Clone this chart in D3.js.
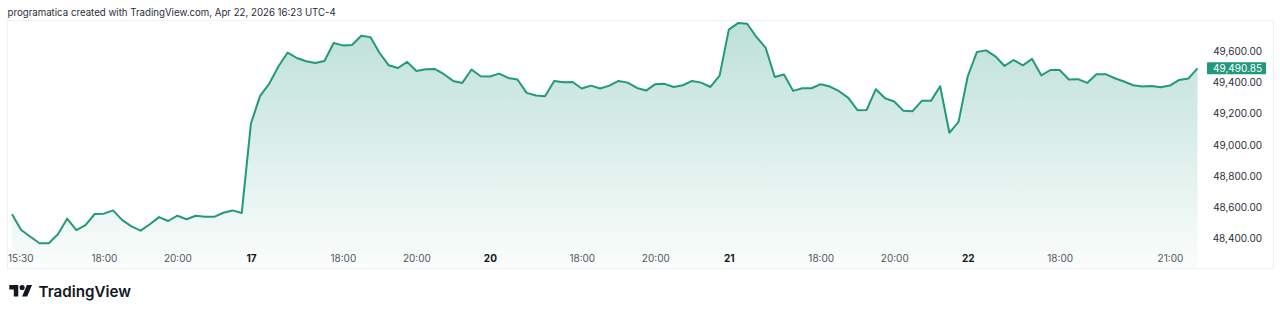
<!DOCTYPE html>
<html>
<head>
<meta charset="utf-8">
<script src="https://cdn.jsdelivr.net/npm/d3@7"></script>
<style>
  html, body { margin: 0; padding: 0; background: #fff; }
  svg { display: block; font-family: Inter, "Noto Sans", sans-serif; }
</style>
</head>
<body>
<svg id="chart" width="1280" height="315"></svg>
<script>
// sessions (days) and the 15 minute bars inside each one
let sessionDays = ['16', '17', '20', '21', '22'];
let barTimes = ['15:30','15:45','16:00','16:15','16:30','16:45','17:00','17:15','17:30','17:45',
                '18:00','18:15','18:30','18:45','19:00','19:15','19:30','19:45','20:00','20:15',
                '20:30','20:45','21:00','21:15','21:30','21:45'];

// closes per session
let apr16 = [48554,48453,48410,48368,48368,48426,48526,48453,48485,48556,48558,48579,48517,
             48477,48449,48490,48536,48511,48545,48522,48545,48538,48538,48564,48579,48562];
let apr17 = [49137,49314,49393,49504,49592,49557,49536,49525,49538,49653,49638,49640,49700,
             49691,49589,49510,49493,49532,49474,49485,49487,49453,49410,49397,49483,49440];
let apr20 = [49438,49457,49429,49419,49333,49316,49312,49410,49401,49403,49361,49380,49361,
             49380,49410,49399,49365,49348,49389,49391,49371,49382,49410,49399,49371,49444];
let apr21 = [49739,49781,49777,49692,49624,49435,49451,49346,49363,49363,49389,49374,49344,
             49301,49222,49224,49357,49299,49278,49218,49216,49282,49282,49376,49077,49147];
let apr22 = [49440,49596,49606,49568,49506,49544,49510,49551,49446,49480,49480,49419,49421,
             49397,49453,49453,49427,49406,49382,49374,49378,49369,49380,49416,49425,49490.85];

let priceTicks = [48400, 48600, 48800, 49000, 49200, 49400, 49600];
let lastPrice = 49490.85;

// x axis ticks: [day, bar time, label, is day boundary]
let timeTicks = [
  ['16','15:30','15:30',false], ['16','18:00','18:00',false], ['16','20:00','20:00',false],
  ['17','15:30','17',true],     ['17','18:00','18:00',false], ['17','20:00','20:00',false],
  ['20','15:30','20',true],     ['20','18:00','18:00',false], ['20','20:00','20:00',false],
  ['21','15:30','21',true],     ['21','18:00','18:00',false], ['21','20:00','20:00',false],
  ['22','15:30','22',true],     ['22','18:00','18:00',false], ['22','21:00','21:00',false]
];

let title = 'programatica created with TradingView.com, Apr 22, 2026 16:23 UTC-4';

// build rows
let sessions = [apr16, apr17, apr20, apr21, apr22];
let data = [];
sessions.forEach(function (closes, s) {
  closes.forEach(function (c, b) {
    data.push({ key: sessionDays[s] + ' ' + barTimes[b], close: c });
  });
});

let svg = d3.select('#chart');
let lineColor = '#22997a';
let axisFont = 10;

let frame = { left: 7.5, right: 1273.5, top: 20.5, bottom: 268.5 };

let x = d3.scalePoint()
  .domain(data.map(function (d) { return d.key; }))
  .range([12, 1197.5]);

let y = d3.scaleLinear()
  .domain([48400, 49600])
  .range([238.3, 51.3]);

// shrink or grow a text so it spans a given width
let fitText = function (sel, width) {
  let size = +sel.attr('font-size'),
      w = sel.node().getComputedTextLength();
  sel.attr('font-size', (size * width / w).toFixed(2));
}

// title
svg.append('text')
  .attr('x', 7.5)
  .attr('y', 16)
  .attr('font-size', 10)
  .attr('fill', '#2a2e39')
  .text(title)
  .call(fitText, 329);

// frame
svg.append('rect')
  .attr('x', frame.left)
  .attr('y', frame.top)
  .attr('width', frame.right - frame.left)
  .attr('height', frame.bottom - frame.top)
  .attr('fill', 'none')
  .attr('stroke', '#f0f1f4');

// gradient
let grad = svg.append('defs').append('linearGradient')
  .attr('id', 'areaFill')
  .attr('gradientUnits', 'userSpaceOnUse')
  .attr('x1', 0).attr('x2', 0)
  .attr('y1', y(49780)).attr('y2', frame.bottom);
grad.append('stop').attr('offset', 0).attr('stop-color', lineColor).attr('stop-opacity', 0.3);
grad.append('stop').attr('offset', 1).attr('stop-color', lineColor).attr('stop-opacity', 0.02);

let area = d3.area()
  .x(function (d) { return x(d.key); })
  .y0(frame.bottom - 1)
  .y1(function (d) { return y(d.close); });

let line = d3.line()
  .x(function (d) { return x(d.key); })
  .y(function (d) { return y(d.close); });

svg.append('path')
  .datum(data)
  .attr('d', area)
  .attr('fill', 'url(#areaFill)');

svg.append('path')
  .datum(data)
  .attr('d', line)
  .attr('fill', 'none')
  .attr('stroke', lineColor)
  .attr('stroke-width', 2)
  .attr('stroke-linejoin', 'round');

// price axis
let yAxis = d3.axisRight(y)
  .tickValues(priceTicks)
  .tickSize(0)
  .tickPadding(0)
  .tickFormat(d3.format(',.2f'));

let yAxisG = svg.append('g')
  .attr('transform', 'translate(1262,0)')
  .call(yAxis);
yAxisG.select('.domain').remove();
yAxisG.selectAll('text')
  .attr('text-anchor', 'end')
  .attr('font-family', 'Inter, "Noto Sans", sans-serif')
  .attr('font-size', axisFont)
  .attr('fill', '#2a2e39');

// last price badge
let badge = svg.append('g')
  .attr('transform', 'translate(0,' + y(lastPrice) + ')');
badge.append('rect')
  .attr('x', 1207)
  .attr('y', -6)
  .attr('width', 59)
  .attr('height', 12)
  .attr('rx', 1)
  .attr('fill', lineColor);
badge.append('text')
  .attr('x', 1262)
  .attr('dy', '0.34em')
  .attr('text-anchor', 'end')
  .attr('font-size', axisFont)
  .attr('fill', '#ffffff')
  .text(d3.format(',.2f')(lastPrice));

// time axis
let tickByKey = {};
timeTicks.forEach(function (t) { tickByKey[t[0] + ' ' + t[1]] = t; });

let xAxis = d3.axisBottom(x)
  .tickValues(timeTicks.map(function (t) { return t[0] + ' ' + t[1]; }))
  .tickSize(0)
  .tickPadding(0)
  .tickFormat(function (k) { return tickByKey[k][2]; });

let xAxisG = svg.append('g')
  .attr('transform', 'translate(0,254.5)')
  .call(xAxis);
xAxisG.select('.domain').remove();
xAxisG.selectAll('text')
  .attr('font-family', 'Inter, "Noto Sans", sans-serif')
  .attr('font-size', axisFont)
  .attr('dy', '0.71em')
  .attr('font-weight', function (k) { return tickByKey[k][3] ? 700 : 400; })
  .attr('fill', function (k) { return tickByKey[k][3] ? '#131722' : '#50535e'; });

// keep the first label inside the frame
xAxisG.selectAll('.tick').each(function () {
  let t = d3.select(this).select('text'),
      w = t.node().getComputedTextLength(),
      tx = x(d3.select(this).datum());
  if (tx - w / 2 < frame.left) {
    t.attr('dx', frame.left - (tx - w / 2));
  }
});

// logo
let logo = svg.append('g')
  .attr('transform', 'translate(9.3,282.4) scale(0.64)')
  .attr('fill', '#131722');
logo.append('path').attr('d', 'M14 22H7V11H0V4h14v18zM28 22h-8l7.5-18h8L28 22z');
logo.append('circle').attr('cx', 20).attr('cy', 8).attr('r', 4);

svg.append('text')
  .attr('x', 38.5)
  .attr('y', 296.5)
  .attr('font-size', 15)
  .attr('font-weight', 600)
  .attr('fill', '#131722')
  .text('TradingView')
  .call(fitText, 92.4);
</script>
</body>
</html>
